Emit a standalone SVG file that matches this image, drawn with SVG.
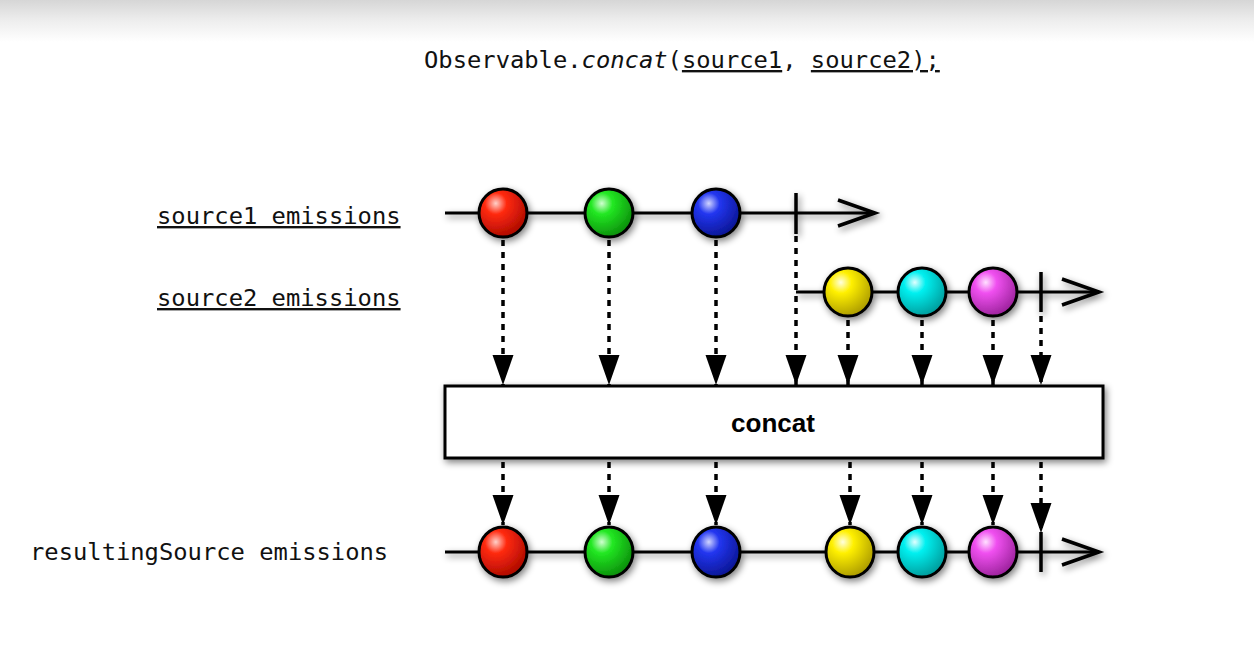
<svg xmlns="http://www.w3.org/2000/svg" width="1254" height="657" viewBox="0 0 1254 657">
<defs>
<linearGradient id="topbg" x1="0" y1="0" x2="0" y2="1">
<stop offset="0" stop-color="#d6d6d6"/>
<stop offset="0.5" stop-color="#eeeeee"/>
<stop offset="1" stop-color="#ffffff"/>
</linearGradient>
<filter id="sh" x="-20%" y="-50%" width="140%" height="200%">
<feGaussianBlur in="SourceAlpha" stdDeviation="3.5"/>
<feOffset dx="2" dy="3" result="b"/>
<feComponentTransfer><feFuncA type="linear" slope="0.5"/></feComponentTransfer>
<feMerge><feMergeNode/><feMergeNode in="SourceGraphic"/></feMerge>
</filter>
<radialGradient id="gRed" cx="0.35" cy="0.3" r="0.75"><stop offset="0" stop-color="#ffd0c8"/><stop offset="0.3" stop-color="#ff2a10"/><stop offset="1" stop-color="#a80800"/></radialGradient>
<radialGradient id="gGreen" cx="0.35" cy="0.3" r="0.75"><stop offset="0" stop-color="#d0ffd0"/><stop offset="0.3" stop-color="#22e822"/><stop offset="1" stop-color="#0a8a0a"/></radialGradient>
<radialGradient id="gBlue" cx="0.35" cy="0.3" r="0.75"><stop offset="0" stop-color="#d0d4ff"/><stop offset="0.3" stop-color="#2236f0"/><stop offset="1" stop-color="#0a1490"/></radialGradient>
<radialGradient id="gYellow" cx="0.35" cy="0.3" r="0.75"><stop offset="0" stop-color="#ffffe0"/><stop offset="0.3" stop-color="#fff000"/><stop offset="1" stop-color="#a89800"/></radialGradient>
<radialGradient id="gCyan" cx="0.35" cy="0.3" r="0.75"><stop offset="0" stop-color="#e0ffff"/><stop offset="0.3" stop-color="#00f0f0"/><stop offset="1" stop-color="#009898"/></radialGradient>
<radialGradient id="gMag" cx="0.35" cy="0.3" r="0.75"><stop offset="0" stop-color="#ffe0ff"/><stop offset="0.3" stop-color="#f050f0"/><stop offset="1" stop-color="#982098"/></radialGradient>
<marker id="tri" markerUnits="userSpaceOnUse" markerWidth="32" markerHeight="24" viewBox="0 -12 32 24" refX="30" refY="0" orient="auto">
<path d="M0,-10.5 L30,0 L0,10.5 z" fill="#000"/>
</marker>
<style>
.mono{font-family:"DejaVu Sans Mono","Liberation Mono",monospace;font-size:23.8px;fill:#111}
.ul{text-decoration:underline}
.tl{stroke:#000;stroke-width:3;fill:none}
.chev{stroke:#000;stroke-width:3.5;fill:none;stroke-linejoin:miter}
.tick{stroke:#000;stroke-width:3.5}
.m{stroke:#000;stroke-width:3}
.dot{stroke:#000;stroke-width:3.5;stroke-dasharray:6 6;fill:none;marker-end:url(#tri)}
</style>
</defs>
<rect width="1254" height="657" fill="#fff"/>
<rect width="1254" height="42" fill="url(#topbg)"/>

<g id="title">
<text class="mono" x="424" y="68">Observable.<tspan font-style="italic">concat</tspan>(<tspan class="ul">source1</tspan>, <tspan class="ul">source2);</tspan></text>
</g>

<g id="labels">
<text class="mono ul" x="157" y="224">source1 emissions</text>
<text class="mono ul" x="157" y="306">source2 emissions</text>
<text class="mono" x="30" y="560">resultingSource emissions</text>
</g>

<g id="connectors">
<line class="dot" x1="503" y1="240" x2="503" y2="385"/>
<line class="dot" x1="609" y1="240" x2="609" y2="385"/>
<line class="dot" x1="716" y1="240" x2="716" y2="385"/>
<line class="dot" x1="796" y1="236" x2="796" y2="385"/>
<line class="dot" x1="848" y1="320" x2="848" y2="385"/>
<line class="dot" x1="922" y1="320" x2="922" y2="385"/>
<line class="dot" x1="993" y1="320" x2="993" y2="385"/>
<line class="dot" x1="1041" y1="316" x2="1041" y2="385"/>
<line class="dot" x1="503" y1="462" x2="503" y2="525"/>
<line class="dot" x1="609" y1="462" x2="609" y2="525"/>
<line class="dot" x1="716" y1="462" x2="716" y2="525"/>
<line class="dot" x1="850" y1="462" x2="850" y2="525"/>
<line class="dot" x1="922" y1="462" x2="922" y2="525"/>
<line class="dot" x1="993" y1="462" x2="993" y2="525"/>
<line class="dot" x1="1041" y1="462" x2="1041" y2="533"/>
</g>

<g id="source1" filter="url(#sh)">
<line class="tl" x1="445" y1="213" x2="874" y2="213"/>
<path class="chev" d="M838,200 L875,213 L838,226"/>
<line class="tick" x1="796" y1="193" x2="796" y2="234"/>
<circle class="m" cx="503" cy="213" r="24" fill="url(#gRed)"/>
<circle class="m" cx="609" cy="213" r="24" fill="url(#gGreen)"/>
<circle class="m" cx="716" cy="213" r="24" fill="url(#gBlue)"/>
</g>

<g id="source2" filter="url(#sh)">
<line class="tl" x1="796" y1="292" x2="1098" y2="292"/>
<path class="chev" d="M1062,279 L1099,292 L1062,305"/>
<line class="tick" x1="1041" y1="272" x2="1041" y2="312"/>
<circle class="m" cx="848" cy="292" r="24" fill="url(#gYellow)"/>
<circle class="m" cx="922" cy="292" r="24" fill="url(#gCyan)"/>
<circle class="m" cx="993" cy="292" r="24" fill="url(#gMag)"/>
</g>

<g id="concat">
<rect x="445" y="386" width="658" height="72" fill="#fff" stroke="#000" stroke-width="3" filter="url(#sh)"/>
<text x="773" y="432" text-anchor="middle" font-family="Liberation Sans, Arial, sans-serif" font-weight="bold" font-size="25.5" fill="#000" textLength="84" lengthAdjust="spacingAndGlyphs">concat</text>
</g>

<g id="result" filter="url(#sh)">
<line class="tl" x1="445" y1="552" x2="1098" y2="552"/>
<path class="chev" d="M1062,539 L1099,552 L1062,565"/>
<line class="tick" x1="1041" y1="532" x2="1041" y2="572"/>
<ellipse class="m" cx="503" cy="552" rx="24" ry="25" fill="url(#gRed)"/>
<ellipse class="m" cx="609" cy="552" rx="24" ry="25" fill="url(#gGreen)"/>
<ellipse class="m" cx="716" cy="552" rx="24" ry="25" fill="url(#gBlue)"/>
<ellipse class="m" cx="850" cy="552" rx="24" ry="25" fill="url(#gYellow)"/>
<ellipse class="m" cx="922" cy="552" rx="24" ry="25" fill="url(#gCyan)"/>
<ellipse class="m" cx="993" cy="552" rx="24" ry="25" fill="url(#gMag)"/>
</g>
</svg>
